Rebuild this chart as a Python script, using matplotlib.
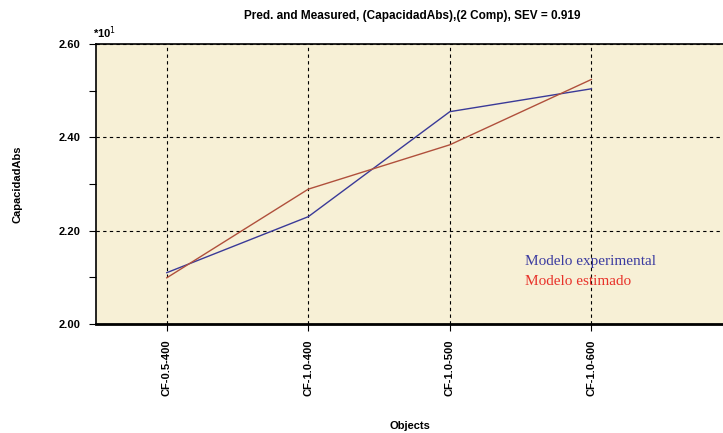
import matplotlib
matplotlib.use("Agg")
import matplotlib.pyplot as plt
from matplotlib.ticker import MultipleLocator

objects = ["CF-0.5-400", "CF-1.0-400", "CF-1.0-500", "CF-1.0-600"]
measured = [2.110, 2.230, 2.455, 2.504]
predicted = [2.099, 2.289, 2.384, 2.524]

plt.rcParams['font.family'] = ['Liberation Sans', 'DejaVu Sans']

fig = plt.figure(figsize=(7.23, 4.33), dpi=100)
ax = fig.add_axes([0.1328, 0.2517, 0.8672, 0.6467])
ax.set_facecolor('#f7f0d6')

x = range(len(objects))
ax.plot(x, measured, color='#3a3a98', lw=1.0, zorder=3)
ax.plot(x, predicted, color='#b0503c', lw=1.0, zorder=3)

ax.set_xlim(-0.5, 3.93)
ax.set_ylim(2.0, 2.6)
ax.set_xticks(list(x))
ax.set_xticklabels(objects, rotation=90, fontsize=8, fontweight='bold')
ax.yaxis.set_major_locator(MultipleLocator(0.2))
ax.yaxis.set_minor_locator(MultipleLocator(0.1))
ax.set_yticklabels(['%.2f' % v for v in ax.get_yticks()], fontsize=8, fontweight='bold')
ax.tick_params(axis='y', which='both', length=5, width=0.8, pad=6)
ax.tick_params(axis='x', length=5, width=0.8, pad=6)

ax.grid(True, which='major', color='black', linestyle=(0, (3, 3)), lw=0.8)
ax.set_axisbelow(True)

ax.spines['right'].set_visible(False)
ax.spines['bottom'].set_linewidth(2)
ax.spines['left'].set_linewidth(1.2)
ax.spines['top'].set_linewidth(1.2)

ax.set_ylabel('CapacidadAbs', fontsize=8, fontweight='bold', labelpad=26)
ax.set_xlabel('Objects', fontsize=8, fontweight='bold', labelpad=18)

fig.text(0.57, 0.962, 'Pred. and Measured, (CapacidadAbs),(2 Comp), SEV = 0.919',
         ha='center', va='center', fontsize=8.5, fontweight='bold')
fig.text(0.128, 0.925, r'*10$^{1}$', ha='left', va='center', fontsize=8, fontweight='bold')

fig.text(0.726, 0.395, 'Modelo experimental', color='#3b3ba0', fontsize=11,
         family='Liberation Serif', ha='left', va='center')
fig.text(0.726, 0.350, 'Modelo estimado', color='#e8322a', fontsize=11,
         family='Liberation Serif', ha='left', va='center')

fig.savefig('out.png', dpi=100)
